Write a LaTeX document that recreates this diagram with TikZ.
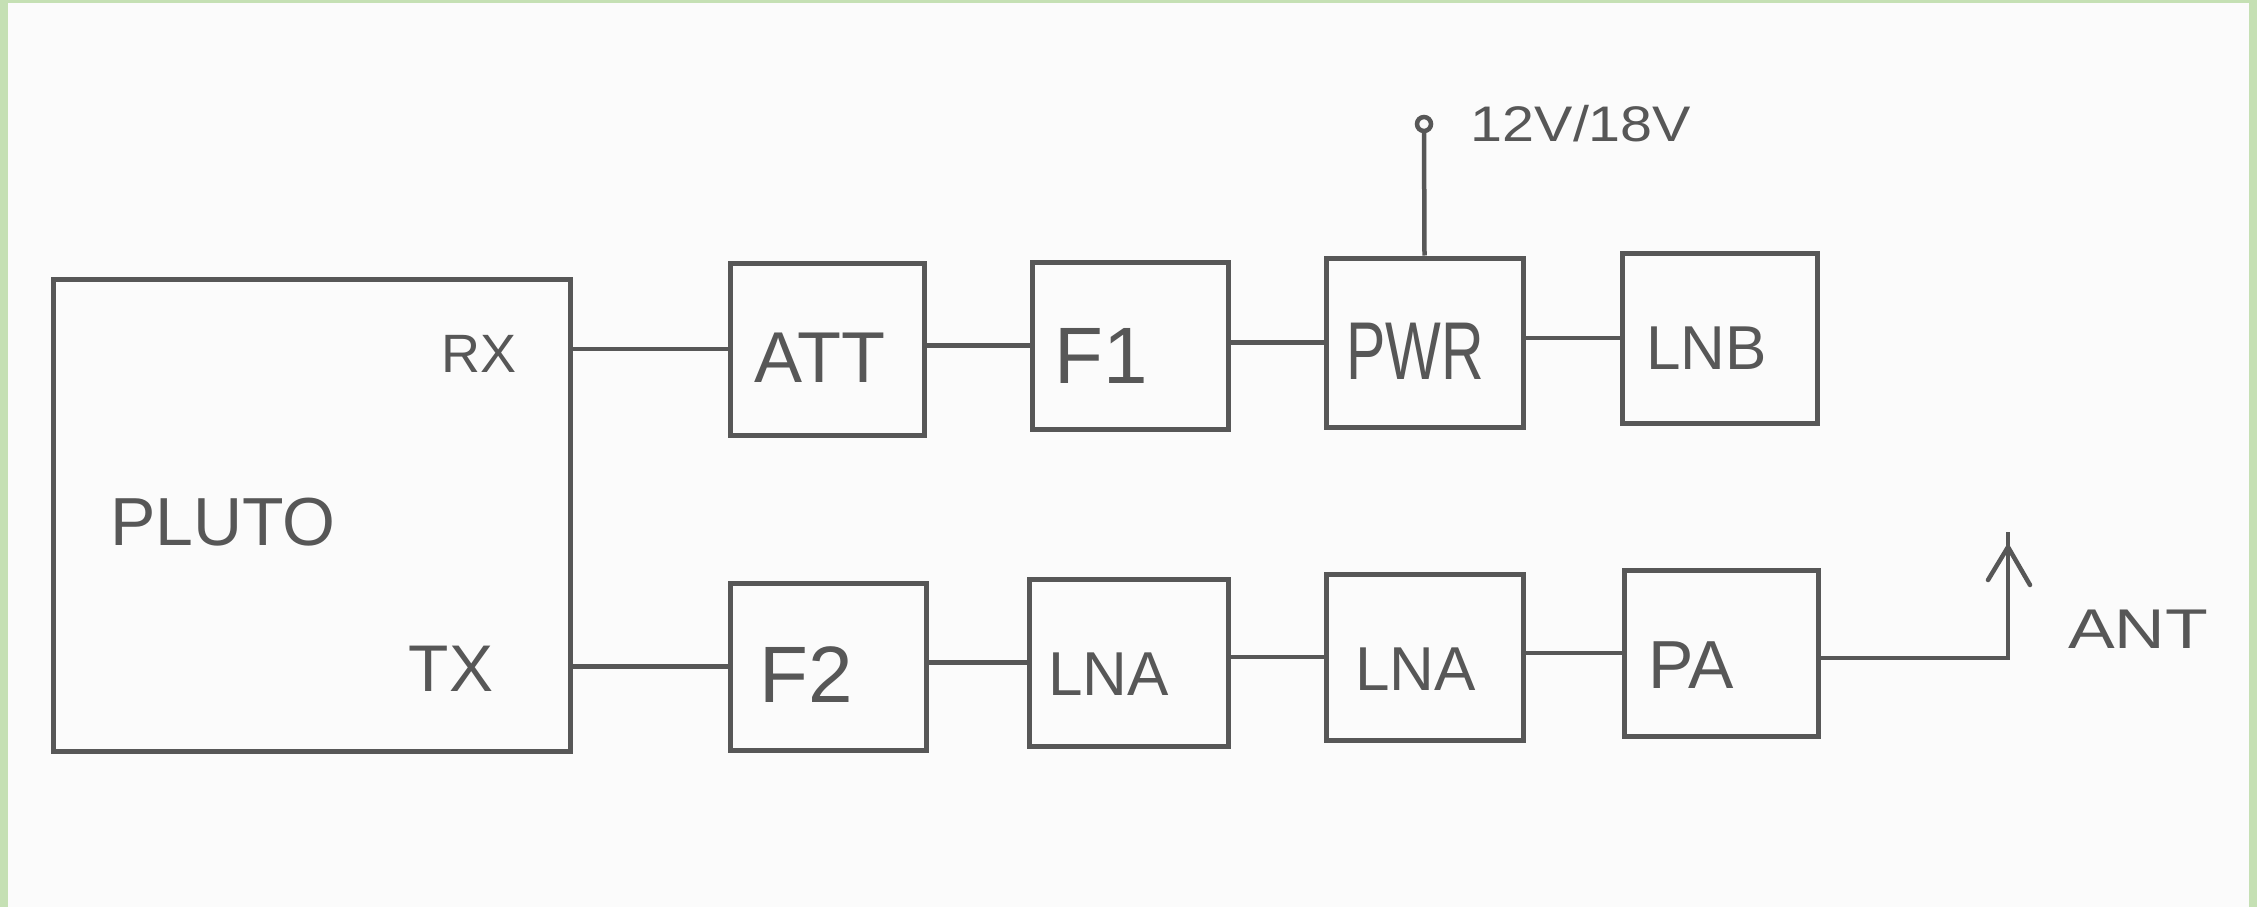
\documentclass[tikz,border=0pt]{standalone}
\usepackage{fontspec}
\setmainfont{Liberation Sans}
\definecolor{ink}{HTML}{575757}
\definecolor{paper}{HTML}{FBFBFB}
\definecolor{frame}{HTML}{C5E0B4}
\tikzset{
  blk/.style={draw=ink, line width=5pt, inner sep=0pt, minimum width=196pt, minimum height=168pt},
  wire/.style={draw=ink, line width=4.5pt},
  lbl/.style={text=ink, inner sep=0pt, font=\fontsize{#1}{#1}\selectfont},
  lbl/.default=60
}
\begin{document}
\begin{tikzpicture}[x=1pt,y=-1pt]
\useasboundingbox (0,0) rectangle (2257,907);
\fill[paper] (0,0) rectangle (2257,907);
\fill[frame] (0,0) rectangle (8,907);
\fill[frame] (0,0) rectangle (2257,3);
\fill[frame] (2249,0) rectangle (2257,907);

% PLUTO
\node[blk, minimum width=517pt, minimum height=472pt] (pluto) at (311.5,515) {};
\node[lbl=68] (plutot) at (223,522) {PLUTO};
\node[lbl=54] (rx) at (479,354) {RX};
\node[lbl=66] (tx) at (451,669) {TX};

% RX chain
\node[blk, minimum width=194pt, minimum height=172pt,
      label={[lbl=72, xshift=-7pt, yshift=-9pt]center:ATT}] (att) at (827,349) {};
\node[blk, minimum width=196pt, minimum height=167pt,
      label={[lbl=80, xshift=-29pt, yshift=-10pt]center:F1}] (f1) at (1130,345.5) {};
\node[blk, minimum width=197pt, minimum height=169pt,
      label={[lbl=82, xscale=0.72, xshift=-13pt, yshift=-9pt]center:PWR}] (pwr) at (1424.5,342.5) {};
\node[blk, minimum width=195pt, minimum height=170pt,
      label={[lbl=62, xshift=-13pt, yshift=-10pt]center:LNB}] (lnb) at (1719.5,338) {};

% TX chain
\node[blk, minimum width=196pt, minimum height=167pt,
      label={[lbl=80, xshift=-22pt, yshift=-8pt]center:F2}] (f2) at (828,666.5) {};
\node[blk, minimum width=199pt, minimum height=167pt,
      label={[lbl=62, xshift=-20pt, yshift=-12pt]center:LNA}] (lna1) at (1128.5,662.5) {};
\node[blk, minimum width=197pt, minimum height=166pt,
      label={[lbl=62, xshift=-9pt, yshift=-12pt]center:LNA}] (lna2) at (1424.5,657) {};
\node[blk, minimum width=194pt, minimum height=166pt,
      label={[lbl=68, xshift=-30pt, yshift=-12pt]center:PA}] (pa) at (1721,653) {};

% power terminal
\coordinate (vin) at (1424,124);
\draw[wire] (pwr.north) -- ([yshift=-7pt]vin);
\draw[ink, line width=4.5pt] (vin) circle (7pt);
\node[lbl=50, xscale=1.15] (volt) at (1581,124) {12V/18V};

% antenna
\coordinate (antc) at (2008,658);
\coordinate (antt) at (2008,532);
\coordinate (apex) at (2008,547);
\node[lbl=56, xscale=1.25] (ant) at (2138,629) {ANT};

% wires
\draw[wire] (att.west) -- (pluto.east |- att.west);
\draw[wire] (f1.west) -- (att.east |- f1.west);
\draw[wire] (pwr.west) -- (f1.east |- pwr.west);
\draw[wire] (lnb.west) -- (pwr.east |- lnb.west);
\draw[wire] (f2.west) -- (pluto.east |- f2.west);
\draw[wire] (lna1.west) -- (f2.east |- lna1.west);
\draw[wire] (lna2.west) -- (lna1.east |- lna2.west);
\draw[wire] (pa.west) -- (lna2.east |- pa.west);
\draw[wire, line join=miter] (pa.east |- antc) -- (antc) -- (antt);
\draw[wire, line cap=round, line join=round] ([xshift=-20pt,yshift=-33pt]apex) -- (apex) -- ([xshift=22pt,yshift=-38pt]apex);
\end{tikzpicture}
\end{document}
